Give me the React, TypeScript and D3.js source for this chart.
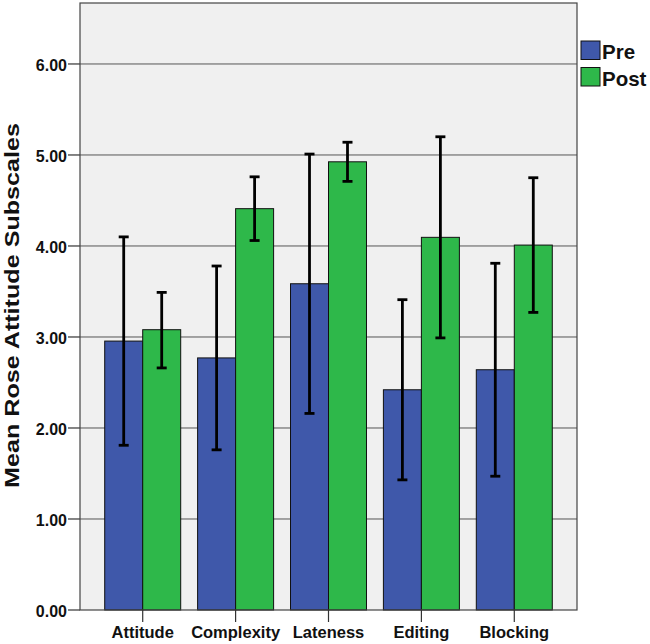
import React from "react";
import * as d3 from "d3";

const categories = ["Attitude", "Complexity", "Lateness", "Editing", "Blocking"];
const seriesNames = ["Pre", "Post"];
const preMeans = [2.955, 2.77, 3.585, 2.42, 2.64];
const preLow = [1.81, 1.76, 2.16, 1.43, 1.47];
const preHigh = [4.1, 3.78, 5.01, 3.41, 3.81];
const postMeans = [3.08, 4.41, 4.925, 4.095, 4.01];
const postLow = [2.66, 4.06, 4.71, 2.99, 3.27];
const postHigh = [3.49, 4.76, 5.14, 5.2, 4.75];
const yTicks = [0, 1, 2, 3, 4, 5, 6];
const colors = ["#3f58aa", "#2eb84a"];

const W = 650;
const H = 644;
const plot = { left: 80, right: 577, top: 3, bottom: 610 };
const FONT = "'Liberation Sans', Arial, sans-serif";

export default function App() {
  const y = d3.scaleLinear().domain([0, 6.67]).range([plot.bottom, plot.top]);
  const x0 = d3
    .scaleBand<string>()
    .domain(categories)
    .range([plot.left, plot.right])
    .paddingInner(0.182)
    .paddingOuter(0.266);
  const x1 = d3.scaleBand<string>().domain(seriesNames).range([0, x0.bandwidth()]);

  const series = [
    { name: "Pre", means: preMeans, low: preLow, high: preHigh },
    { name: "Post", means: postMeans, low: postLow, high: postHigh },
  ];

  return (
    <svg
      width={W}
      height={H}
      style={{ position: "absolute", left: 0, top: 0, background: "#fff" }}
    >
      <rect
        x={plot.left}
        y={plot.top}
        width={plot.right - plot.left}
        height={plot.bottom - plot.top}
        fill="#f0f0f0"
      />
      {yTicks.map((t) => (
        <g key={t}>
          {t > 0 && (
            <line
              x1={plot.left}
              x2={plot.right}
              y1={y(t)}
              y2={y(t)}
              stroke="#555"
              strokeWidth={1}
            />
          )}
          <line x1={plot.left - 12} x2={plot.left} y1={y(t)} y2={y(t)} stroke="#333" strokeWidth={1.2} />
          <text
            x={plot.left - 13}
            y={y(t) + 1}
            dy="0.35em"
            textAnchor="end"
            fontFamily={FONT}
            fontWeight="bold"
            fontSize={16}
            fill="#111"
          >
            {d3.format(".2f")(t)}
          </text>
        </g>
      ))}
      {series.map((s, si) =>
        categories.map((c, i) => {
          const bx = (x0(c) as number) + (x1(s.name) as number);
          return (
            <rect
              key={s.name + c}
              x={bx}
              y={y(s.means[i])}
              width={x1.bandwidth()}
              height={y(0) - y(s.means[i])}
              fill={colors[si]}
              stroke="#111"
              strokeWidth={1}
            />
          );
        })
      )}
      {series.map((s) =>
        categories.map((c, i) => {
          const cx = (x0(c) as number) + (x1(s.name) as number) + x1.bandwidth() / 2;
          return (
            <g key={"e" + s.name + c} stroke="#000" strokeWidth={2.8}>
              <line x1={cx} x2={cx} y1={y(s.low[i])} y2={y(s.high[i])} />
              <line x1={cx - 5} x2={cx + 5} y1={y(s.low[i])} y2={y(s.low[i])} />
              <line x1={cx - 5} x2={cx + 5} y1={y(s.high[i])} y2={y(s.high[i])} />
            </g>
          );
        })
      )}
      <rect
        x={plot.left}
        y={plot.top}
        width={plot.right - plot.left}
        height={plot.bottom - plot.top}
        fill="none"
        stroke="#444"
        strokeWidth={1.2}
      />
      {categories.map((c) => {
        const cx = (x0(c) as number) + x0.bandwidth() / 2;
        return (
          <g key={"x" + c}>
            <line x1={cx} x2={cx} y1={plot.bottom} y2={plot.bottom + 12} stroke="#333" strokeWidth={1.2} />
            <text
              x={cx}
              y={638}
              textAnchor="middle"
              fontFamily={FONT}
              fontWeight="bold"
              fontSize={16.5}
              fill="#111"
            >
              {c}
            </text>
          </g>
        );
      })}
      <text
        transform={`translate(19,305.5) rotate(-90)`}
        textAnchor="middle"
        fontFamily={FONT}
        fontWeight="bold"
        fontSize={20}
        textLength={365}
        lengthAdjust="spacingAndGlyphs"
        fill="#111"
      >
        Mean Rose Attitude Subscales
      </text>
      {seriesNames.map((n, i) => (
        <g key={"l" + n}>
          <rect
            x={581}
            y={41 + i * 26.5}
            width={19}
            height={18.5}
            fill={colors[i]}
            stroke="#111"
            strokeWidth={1}
          />
          <text x={602} y={59 + i * 26.5} fontFamily={FONT} fontWeight="bold" fontSize={20.5} fill="#111">
            {n}
          </text>
        </g>
      ))}
    </svg>
  );
}
